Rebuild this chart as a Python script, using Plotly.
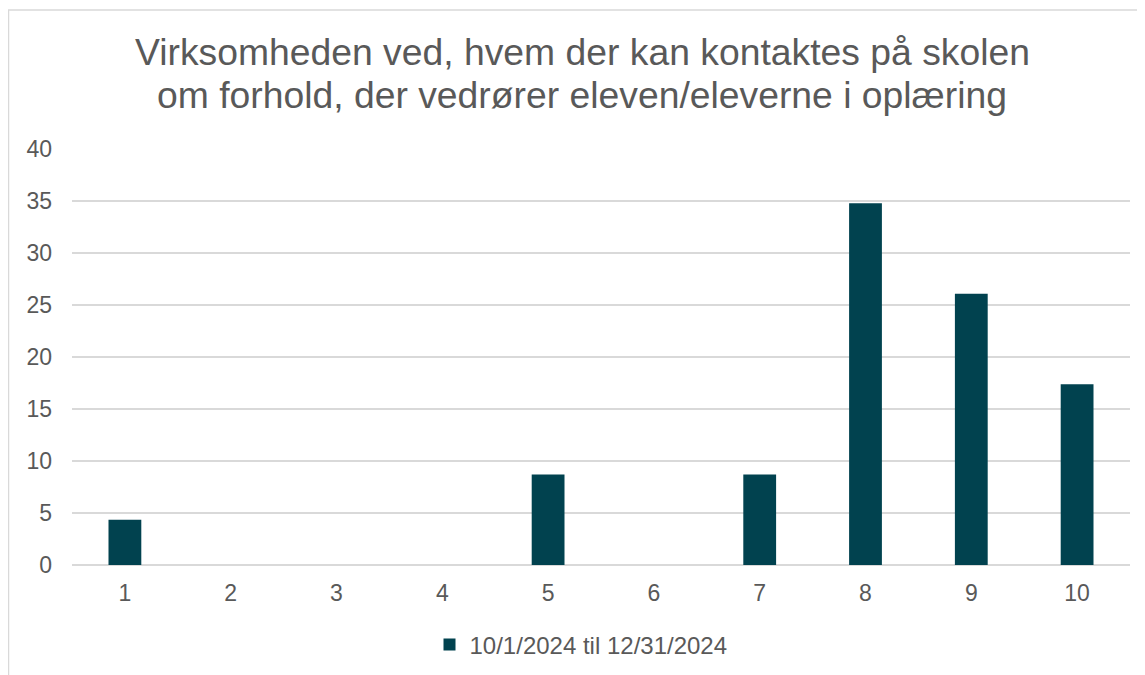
import plotly.graph_objects as go

categories = ["1", "2", "3", "4", "5", "6", "7", "8", "9", "10"]
values = [4.35, 0, 0, 0, 8.70, 0, 8.70, 34.78, 26.09, 17.39]
series_name = "10/1/2024 til 12/31/2024"
title_lines = ["Virksomheden ved, hvem der kan kontaktes på skolen",
               "om forhold, der vedrører eleven/eleverne i oplæring"]
y_ticks = [0, 5, 10, 15, 20, 25, 30, 35, 40]

# figure drawn inside the page's 8px body margin
OFF = 8
W, H = 1145 - OFF, 675 - OFF
L, R, T, B = 72 - OFF, 15, 149 - OFF, 675 - 565
pw = W - L - R
ph = H - T - B

def px_x(x):  # screen px -> paper
    return (x - OFF - L) / pw

def px_y(y):
    return (H - B - (y - OFF)) / ph

TXT = "#595959"
GRID = "#D9D9D9"

fig = go.Figure()
fig.add_trace(go.Bar(
    x=categories, y=values, name=series_name,
    marker=dict(color="#01424F", line=dict(width=0)),
))

annotations = [
    dict(text=title_lines[0], x=px_x(582), y=px_y(52), xref="paper", yref="paper",
         xanchor="center", yanchor="middle", showarrow=False,
         font=dict(size=37.3, color=TXT)),
    dict(text=title_lines[1], x=px_x(582), y=px_y(95), xref="paper", yref="paper",
         xanchor="center", yanchor="middle", showarrow=False,
         font=dict(size=37.3, color=TXT)),
]

fig.update_layout(
    width=W, height=H,
    margin=dict(l=L, r=R, t=T, b=B, autoexpand=False),
    paper_bgcolor="white", plot_bgcolor="white",
    font=dict(family="Liberation Sans, Arial, sans-serif", color=TXT),
    annotations=annotations,
    bargap=0.69,
    showlegend=True,
    legend=dict(orientation="h", x=px_x(581), xanchor="center", y=px_y(645), yanchor="middle",
                font=dict(size=24, color=TXT)),
    xaxis=dict(type="category", showgrid=False, showline=False, ticks="",
               tickfont=dict(size=23, color=TXT), ticklabelstandoff=12),
    yaxis=dict(range=[0, 40], tickvals=y_ticks, showgrid=True, gridcolor=GRID,
               gridwidth=1.5, zeroline=True, zerolinecolor=GRID, zerolinewidth=1.5,
               showline=False, ticks="", tickfont=dict(size=23, color=TXT),
               ticklabelstandoff=19),
    shapes=[dict(type="rect", xref="paper", yref="paper",
                 x0=px_x(8.5), x1=px_x(1160), y0=px_y(700), y1=px_y(10),
                 line=dict(color=GRID, width=1.5), layer="below")],
)

fig.write_html("out.html")
